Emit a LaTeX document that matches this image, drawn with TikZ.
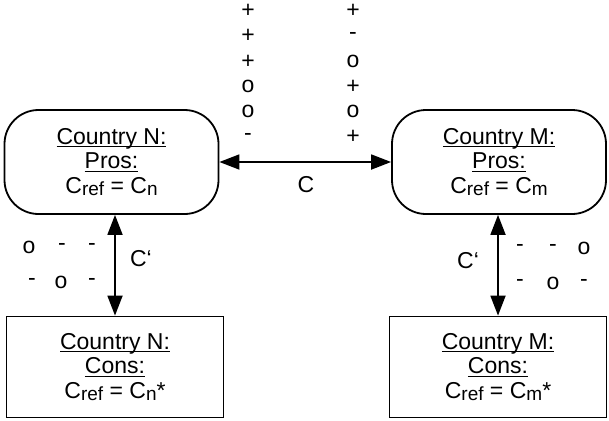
\documentclass[tikz,border=0pt]{standalone}
\usepackage{fontspec}
\setmainfont{Liberation Sans}
\usetikzlibrary{arrows.meta}
% underline drawn at a fixed depth below the baseline
\newcommand\ulx[1]{\setbox0\hbox{#1}\rlap{\rule[-3pt]{\wd0}{1.4pt}}\box0}
% slightly smaller, slightly lowered index text
\newcommand\lowr[1]{\raisebox{-2pt}{\fontsize{19}{19}\selectfont #1}}
\tikzset{
  prosbox/.style={draw, line width=1.8pt, rounded corners=34pt, minimum width=214pt,
    minimum height=104pt, inner sep=0pt, align=center},
  consbox/.style={draw, line width=1.8pt, minimum width=217pt,
    minimum height=101pt, inner sep=0pt, align=center},
  dbl/.style={line width=1.8pt, {Triangle[length=20pt,width=15pt]}-{Triangle[length=20pt,width=15pt]}},
  sym/.style={inner sep=0pt},
}
\begin{document}
\begin{tikzpicture}[x=1pt, y=-1pt, font=\fontsize{23}{24.5}\selectfont]
\useasboundingbox (0,0) rectangle (609,420);

% country boxes
\node[prosbox] (np) at (111.5,162) {\ulx{Country N:}\\\ulx{Pros:}\\C\lowr{ref} = C\lowr{n}};
\node[prosbox] (mp) at (499,162) {\ulx{Country M:}\\\ulx{Pros:}\\C\lowr{ref} = C\lowr{m}};
\node[consbox] (nc) at (115,367) {\ulx{Country N:}\\\ulx{Cons:}\\C\lowr{ref} = C\lowr{n}*};
\node[consbox] (mc) at (498,367) {\ulx{Country M:}\\\ulx{Cons:}\\C\lowr{ref} = C\lowr{m}*};

% connectors
\draw[dbl] (np.east) -- (mp.west);
\draw[dbl] (nc.north |- np.south) -- (nc.north);
\draw[dbl] (mc.north |- mp.south) -- (mc.north);

% connector labels
\node (lc) at (306,185) {C};
\node (lcn) at (141,259) {C‘};
\node (lcm) at (468,261) {C‘};

% sign columns above the horizontal connector
\foreach \s [count=\i] in {+,+,+,o,o,-}
  \node[sym] (a\i) at (248,{11+25.2*(\i-1)}) {\s};
\foreach \s [count=\i] in {+,-,o,+,o,+}
  \node[sym] (b\i) at (353,{11+25.2*(\i-1)}) {\s};

% sign rows beside the vertical connectors
\node[sym] (n11) at (29,247) {o};
\node[sym] (n12) at (62,247) {-};
\node[sym] (n13) at (92,247) {-};
\node[sym] (n21) at (32,282) {-};
\node[sym] (n22) at (61,282) {o};
\node[sym] (n23) at (92,282) {-};
\node[sym] (m11) at (520,248) {-};
\node[sym] (m12) at (553,248) {-};
\node[sym] (m13) at (584,248) {o};
\node[sym] (m21) at (520,283) {-};
\node[sym] (m22) at (553,283) {o};
\node[sym] (m23) at (584,283) {-};
\end{tikzpicture}
\end{document}
